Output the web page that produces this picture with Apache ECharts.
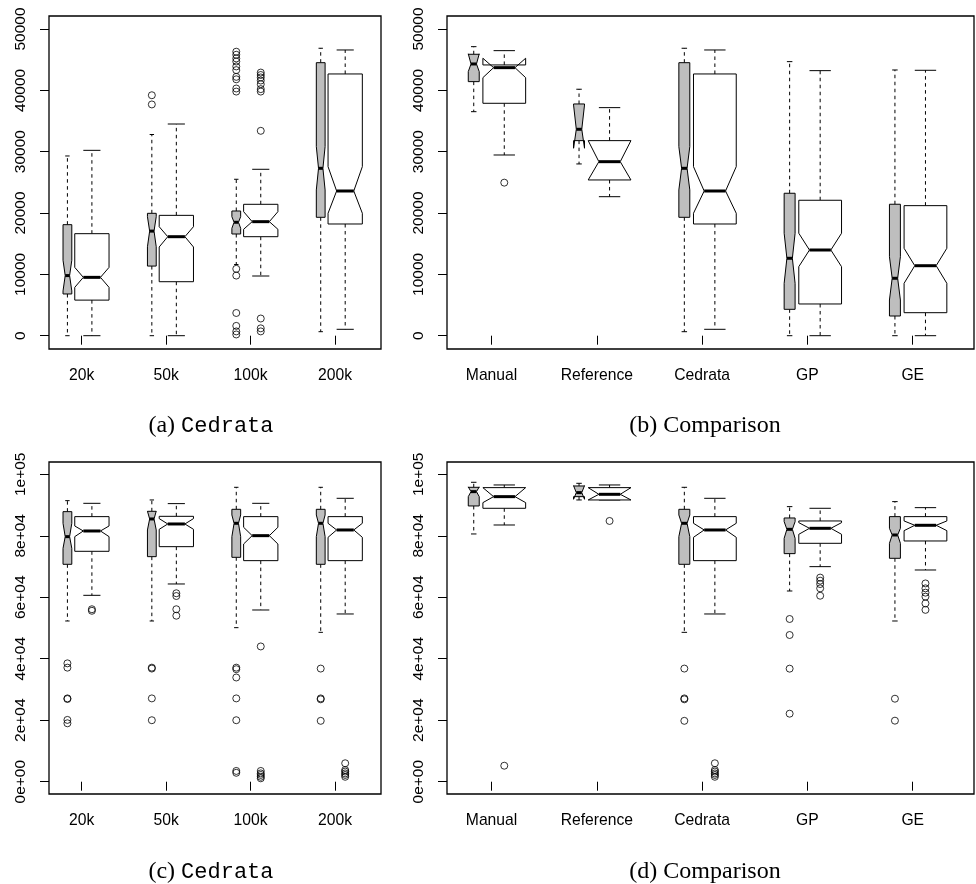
<!DOCTYPE html>
<html>
<head>
<meta charset="utf-8">
<script src="https://cdn.jsdelivr.net/npm/echarts@6/dist/echarts.min.js"></script>
<style>
  html, body { margin: 0; padding: 0; background: #fff; }
  #chart { width: 976px; height: 884px; }
</style>
</head>
<body>
<div id="chart"></div>
<script>
// each box: [min, Q1, notch low, median, notch high, Q3, max]
var catsSize = ['20k', '50k', '100k', '200k'];
var catsCmp = ['Manual', 'Reference', 'Cedrata', 'GP', 'GE'];

// (a) Cedrata, first measure
var grayA = [
  [0, 6800, 7300, 9800, 12300, 18100, 29300],
  [0, 11350, 14500, 17050, 19400, 19950, 32800],
  [11600, 16580, 17510, 18490, 19400, 20330, 25500],
  [650, 19300, 23760, 27290, 30820, 44510, 46860]
];
var whiteA = [
  [0, 5800, 7880, 9510, 11140, 16630, 30220],
  [0, 8800, 14460, 16140, 17770, 19620, 34510],
  [9730, 16140, 17350, 18590, 20220, 21420, 27130],
  [1040, 18210, 19960, 23590, 27560, 42670, 46580]
];
var grayOutA = [
  [],
  [39200, 37700],
  [46300, 45800, 45200, 44700, 43900, 43300, 42200, 41800, 40300, 39800, 10900, 9800, 3700, 1600, 700, 200],
  []
];
var whiteOutA = [
  [],
  [],
  [42900, 42500, 42100, 41600, 41000, 40200, 39800, 33400, 2800, 1200, 700],
  []
];

// (b) Comparison, first measure
var grayB = [
  [36520, 41420, 43050, 44300, 45950, 45880, 47120],
  [28000, 31800, 30560, 33650, 37600, 37780, 40180],
  [650, 19300, 23760, 27290, 30820, 44510, 46860],
  [0, 4300, 8540, 12620, 16700, 23220, 44680],
  [0, 3210, 5820, 9360, 12880, 21430, 43320]
];
var whiteB = [
  [29460, 37890, 42070, 43700, 45230, 44140, 46470],
  [22660, 25390, 25390, 28370, 31800, 31800, 37180],
  [1040, 18210, 19960, 23590, 27560, 42670, 46580],
  [0, 5170, 11250, 13970, 16700, 22080, 43210],
  [0, 3750, 8540, 11410, 14250, 21200, 43270]
];
var grayOutB = [[], [], [], [], []];
var whiteOutB = [[24950], [], [], [], []];

// (c) Cedrata, second measure
var grayC = [
  [52280, 70720, 75920, 79720, 84060, 87850, 91430],
  [52280, 73210, 81890, 85470, 88000, 87960, 91650],
  [50110, 72990, 79720, 84060, 86770, 88610, 95770],
  [48590, 70720, 79720, 84060, 86770, 88610, 95770]
];
var whiteC = [
  [60630, 74950, 79720, 81560, 83190, 86230, 90560],
  [64320, 76460, 82100, 83840, 85580, 86330, 90460],
  [55860, 71910, 77330, 80040, 82760, 86230, 90560],
  [54560, 71910, 79500, 81890, 84060, 86230, 92190]
];
var grayOutC = [
  [38500, 37100, 27100, 26900, 20100, 19000],
  [37100, 36800, 27100, 20000],
  [37100, 36600, 33900, 27100, 20000, 3500, 2900],
  [36800, 27100, 26800, 19800]
];
var whiteOutC = [
  [56100, 55600],
  [61300, 60400, 56100, 54000],
  [44000, 3500, 2700, 2200, 1600, 1100],
  [6000, 3800, 3300, 2700, 2200, 1600]
];

// (d) Comparison, second measure
var grayD = [
  [80590, 89700, 92730, 94360, 95900, 95770, 97400],
  [91650, 92730, 91870, 94040, 96300, 96200, 97070],
  [48590, 70720, 79720, 84060, 86770, 88610, 95770],
  [62040, 74190, 79180, 82100, 84600, 85790, 89480],
  [52280, 72670, 77550, 80260, 82430, 86230, 91110]
];
var whiteD = [
  [83510, 88940, 90780, 92730, 95660, 95660, 96530],
  [91650, 91650, 91650, 93490, 95660, 95660, 96530],
  [54560, 71910, 79500, 81890, 84060, 86230, 92190],
  [69960, 77550, 80480, 82430, 84270, 84820, 88940],
  [68870, 78310, 81670, 83410, 84820, 86230, 89150]
];
var grayOutD = [[], [], [36800, 27100, 26800, 19800], [52930, 47720, 36770, 22130], [27000, 19850]];
var whiteOutD = [[5200], [84820], [6000, 3800, 3300, 2700, 2200, 1600], [66400, 65400, 64300, 62900, 60500], [64500, 62900, 61500, 60200, 58000, 55900]];

var yTicksAB = [0, 10000, 20000, 30000, 40000, 50000];
var yLabelsAB = ['0', '10000', '20000', '30000', '40000', '50000'];
var yTicksCD = [0, 20000, 40000, 60000, 80000, 100000];
var yLabelsCD = ['0e+00', '2e+04', '4e+04', '6e+04', '8e+04', '1e+05'];

var GRAY_OFF = -0.169, WHITE_OFF = 0.121;
var GRAY_HW = 0.052, WHITE_HW = 0.203;

function boxSeries(gi, stats, off, hw, fill) {
  return {
    type: 'custom',
    xAxisIndex: gi, yAxisIndex: gi,
    clip: true,
    data: stats.map(function (s, i) { return [i + 1 + off].concat(s); }),
    renderItem: function (params, api) {
      var x = api.value(0);
      var mn = api.value(1), q1 = api.value(2), lo = api.value(3), md = api.value(4),
          hi = api.value(5), q3 = api.value(6), mx = api.value(7);
      var c = function (dx, v) { return api.coord([x + dx, v]); };
      var pts = [c(-hw, q1), c(hw, q1), c(hw, lo), c(hw * 0.5, md), c(hw, hi),
                 c(hw, q3), c(-hw, q3), c(-hw, hi), c(-hw * 0.5, md), c(-hw, lo)];
      var dash = { stroke: '#000', lineWidth: 1, lineDash: [3.5, 3.5] };
      var solid = { stroke: '#000', lineWidth: 1 };
      var p0 = c(0, q3), p1 = c(0, mx), p2 = c(0, q1), p3 = c(0, mn);
      var sL = c(-hw * 0.5, mx), sR = c(hw * 0.5, mx);
      var bL = c(-hw * 0.5, mn), bR = c(hw * 0.5, mn);
      var mL = c(-hw * 0.5, md), mR = c(hw * 0.5, md);
      return {
        type: 'group',
        children: [
          { type: 'line', shape: { x1: p0[0], y1: p0[1], x2: p1[0], y2: p1[1] }, style: dash },
          { type: 'line', shape: { x1: p2[0], y1: p2[1], x2: p3[0], y2: p3[1] }, style: dash },
          { type: 'line', shape: { x1: sL[0], y1: sL[1], x2: sR[0], y2: sR[1] }, style: solid },
          { type: 'line', shape: { x1: bL[0], y1: bL[1], x2: bR[0], y2: bR[1] }, style: solid },
          { type: 'polygon', shape: { points: pts }, style: { fill: fill, stroke: '#000', lineWidth: 1 } },
          { type: 'line', shape: { x1: mL[0], y1: mL[1], x2: mR[0], y2: mR[1] }, style: { stroke: '#000', lineWidth: 3 } }
        ]
      };
    }
  };
}

function outSeries(gi, outs, off) {
  var d = [];
  outs.forEach(function (list, i) {
    list.forEach(function (v) { d.push([i + 1 + off, v]); });
  });
  return {
    type: 'scatter', xAxisIndex: gi, yAxisIndex: gi,
    symbol: 'circle', symbolSize: 7,
    itemStyle: { color: 'rgba(0,0,0,0)', borderColor: '#000', borderWidth: 1 },
    silent: true, data: d
  };
}

var grids = [
  { left: 49, top: 16, width: 332, height: 333 },
  { left: 447, top: 16, width: 527, height: 333 },
  { left: 49, top: 462, width: 332, height: 332 },
  { left: 447, top: 462, width: 527, height: 332 }
];
grids.forEach(function (g) {
  g.show = true; g.borderColor = '#000'; g.borderWidth = 1.3; g.backgroundColor = 'transparent';
});

function xAx(gi, cats, min, max) {
  var ticks = cats.map(function (c, i) { return i + 1; });
  return {
    type: 'value', gridIndex: gi, min: min, max: max,
    axisLine: { show: false }, splitLine: { show: false },
    axisTick: { show: true, length: 9, customValues: ticks, lineStyle: { color: '#000', width: 1 } },
    axisLabel: {
      customValues: ticks, margin: 19, color: '#000', fontSize: 15.7, fontFamily: 'Liberation Sans',
      formatter: function (v) { return cats[Math.round(v) - 1]; }
    }
  };
}
function yAx(gi, ticks, labels, min, max) {
  return {
    type: 'value', gridIndex: gi, min: min, max: max,
    axisLine: { show: false }, splitLine: { show: false },
    axisTick: { show: true, length: 9, customValues: ticks, lineStyle: { color: '#000', width: 1 } },
    axisLabel: {
      customValues: ticks, rotate: 90, margin: 20, color: '#000', fontSize: 15.5, fontFamily: 'Liberation Sans',
      formatter: function (v) { return labels[ticks.indexOf(v)]; }
    }
  };
}

var capRich = {
  s: { fontFamily: 'Liberation Serif', fontSize: 24, fontWeight: 'normal', color: '#000' },
  m: { fontFamily: 'Liberation Mono', fontSize: 22, fontWeight: 'normal', color: '#000' }
};
function cap(text, x, y) {
  return { text: text, left: x, top: y, textAlign: 'center', textStyle: { fontWeight: 'normal', rich: capRich } };
}

var option = {
  backgroundColor: '#fff',
  animation: false,
  title: [
    cap('{s|(a) }{m|Cedrata}', 206, 409),
    cap('{s|(b) Comparison}', 700, 409),
    cap('{s|(c) }{m|Cedrata}', 206, 855),
    cap('{s|(d) Comparison}', 700, 855)
  ],
  grid: grids,
  xAxis: [
    xAx(0, catsSize, 0.613, 4.545),
    xAx(1, catsCmp, 0.577, 5.582),
    xAx(2, catsSize, 0.613, 4.545),
    xAx(3, catsCmp, 0.577, 5.582)
  ],
  yAxis: [
    yAx(0, yTicksAB, yLabelsAB, -2170, 52120),
    yAx(1, yTicksAB, yLabelsAB, -2170, 52120),
    yAx(2, yTicksCD, yLabelsCD, -4000, 104000),
    yAx(3, yTicksCD, yLabelsCD, -4000, 104000)
  ],
  series: [
    boxSeries(0, grayA, GRAY_OFF, GRAY_HW, '#bebebe'),
    boxSeries(0, whiteA, WHITE_OFF, WHITE_HW, '#fff'),
    outSeries(0, grayOutA, GRAY_OFF),
    outSeries(0, whiteOutA, WHITE_OFF),
    boxSeries(1, grayB, GRAY_OFF, GRAY_HW, '#bebebe'),
    boxSeries(1, whiteB, WHITE_OFF, WHITE_HW, '#fff'),
    outSeries(1, grayOutB, GRAY_OFF),
    outSeries(1, whiteOutB, WHITE_OFF),
    boxSeries(2, grayC, GRAY_OFF, GRAY_HW, '#bebebe'),
    boxSeries(2, whiteC, WHITE_OFF, WHITE_HW, '#fff'),
    outSeries(2, grayOutC, GRAY_OFF),
    outSeries(2, whiteOutC, WHITE_OFF),
    boxSeries(3, grayD, GRAY_OFF, GRAY_HW, '#bebebe'),
    boxSeries(3, whiteD, WHITE_OFF, WHITE_HW, '#fff'),
    outSeries(3, grayOutD, GRAY_OFF),
    outSeries(3, whiteOutD, WHITE_OFF)
  ]
};

var chart = echarts.init(document.getElementById('chart'));
chart.setOption(option);
</script>
</body>
</html>
